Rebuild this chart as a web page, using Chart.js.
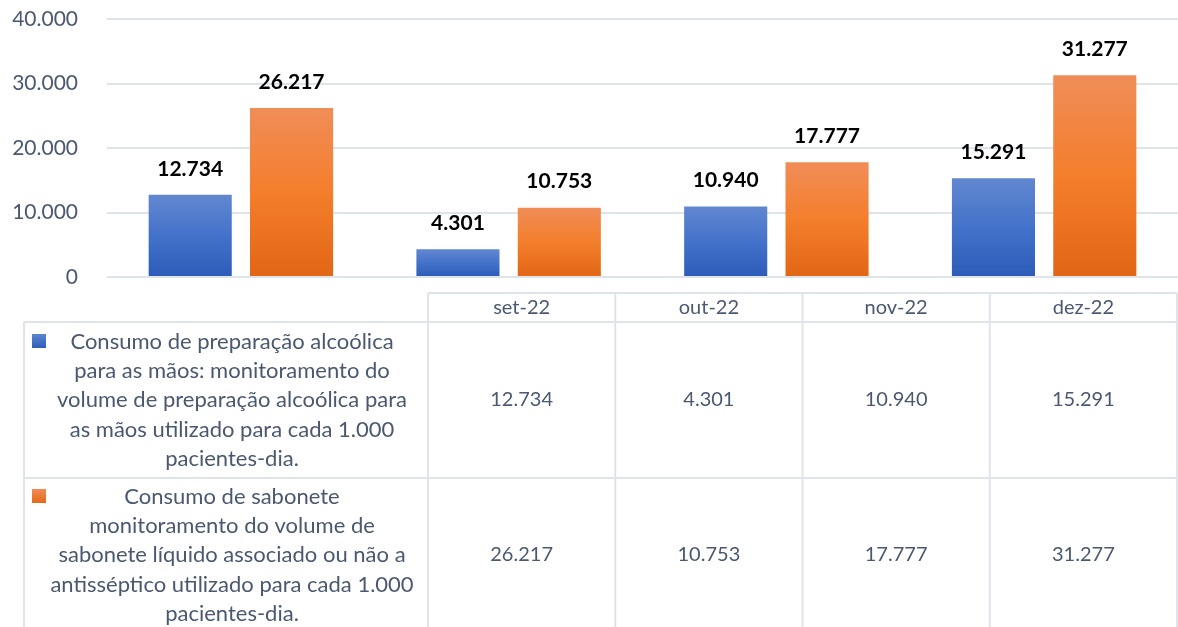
<!DOCTYPE html>
<html>
<head>
<meta charset="utf-8">
<script src="https://cdn.jsdelivr.net/npm/chart.js@4/dist/chart.umd.min.js"></script>
<style>
  html, body { margin: 0; padding: 0; background: #fff; }
  #wrap { width: 1178px; height: 627px; }
</style>
</head>
<body>
<div id="wrap"><canvas id="chart"></canvas></div>
<script>
// months shown in the data table
var months = ["set-22", "out-22", "nov-22", "dez-22"];

// series values
var alcoolValues = [12734, 4301, 10940, 15291];
var saboneteValues = [26217, 10753, 17777, 31277];

// legend text of the data table rows (already broken into lines like the original)
var alcoolLabel = [
    "Consumo de preparação alcoólica",
    "para as mãos: monitoramento do",
    "volume de preparação alcoólica para",
    "as mãos utilizado para cada 1.000",
    "pacientes-dia."
];
var saboneteLabel = [
    "Consumo de sabonete",
    "monitoramento do volume de",
    "sabonete líquido associado ou não a",
    "antisséptico utilizado para cada 1.000",
    "pacientes-dia."
];

var yTicks = [0, 10000, 20000, 30000, 40000];

var FONT = "Lato, 'Open Sans', sans-serif";
var TEXT_COLOR = "#4A5870";
var LINE_COLOR = "#DFE4EB";

function fmt(v) {
    // pt-BR thousands separator
    return v.toString().replace(/\B(?=(\d{3})+(?!\d))/g, ".");
}

// per-bar vertical gradient, like the excel fill
function barGradient(top, mid, bottom) {
    return function (ctx) {
        var chart = ctx.chart;
        if (!chart.chartArea || ctx.parsed == null) return mid;
        var y = chart.scales.y;
        var y0 = y.getPixelForValue(ctx.parsed.y);
        var y1 = y.getPixelForValue(0);
        if (!isFinite(y0) || y1 - y0 < 1) return mid;
        var g = chart.ctx.createLinearGradient(0, y0, 0, y1);
        g.addColorStop(0, top);
        g.addColorStop(0.5, mid);
        g.addColorStop(1, bottom);
        return g;
    };
}

/*
 value labels above the bars
 */
var valueLabels = {
    id: "valueLabels",
    afterDatasetsDraw: function (chart) {
        var c = chart.ctx;
        c.save();
        c.font = "bold 21px " + FONT;
        c.fillStyle = "#000";
        c.textAlign = "center";
        c.textBaseline = "middle";
        chart.data.datasets.forEach(function (ds, i) {
            chart.getDatasetMeta(i).data.forEach(function (bar, j) {
                c.fillText(fmt(ds.data[j]), bar.x, bar.y - 26);
            });
        });
        c.restore();
    }
};

/*
 data table under the plot
 */
var dataTable = {
    id: "dataTable",
    afterDraw: function (chart) {
        var c = chart.ctx;
        var left = 24, colStart = 428, right = 1177;
        var headTop = 293, row1Top = 322, row2Top = 478, bottom = 640;
        var colW = (right - colStart) / months.length;

        c.save();
        c.strokeStyle = LINE_COLOR;
        c.lineWidth = 2;
        c.beginPath();
        // horizontal lines
        c.moveTo(colStart, headTop); c.lineTo(right, headTop);
        c.moveTo(left, row1Top); c.lineTo(right, row1Top);
        c.moveTo(left, row2Top); c.lineTo(right, row2Top);
        // vertical lines
        c.moveTo(left, row1Top); c.lineTo(left, bottom);
        for (var k = 0; k <= months.length; k++) {
            var x = colStart + k * colW;
            c.moveTo(x, headTop); c.lineTo(x, bottom);
        }
        c.stroke();

        c.fillStyle = TEXT_COLOR;
        c.font = "20px " + FONT;
        c.textAlign = "center";
        c.textBaseline = "middle";
        months.forEach(function (m, k) {
            var cx = colStart + (k + 0.5) * colW;
            c.fillText(m, cx, 308);
            c.fillText(fmt(alcoolValues[k]), cx, 400);
            c.fillText(fmt(saboneteValues[k]), cx, 555);
        });

        // row legends
        c.font = "22px " + FONT;
        var rows = [
            { lines: alcoolLabel, top: 342, key: 334, ds: 0 },
            { lines: saboneteLabel, top: 497, key: 489, ds: 1 }
        ];
        rows.forEach(function (r) {
            r.lines.forEach(function (t, n) {
                c.fillText(t, 232, r.top + n * 29.2);
            });
            var g = c.createLinearGradient(0, r.key, 0, r.key + 14);
            if (r.ds === 0) {
                g.addColorStop(0, "#5F86D0"); g.addColorStop(1, "#2D5EB9");
            } else {
                g.addColorStop(0, "#F08C56"); g.addColorStop(1, "#E46A17");
            }
            c.fillStyle = g;
            c.fillRect(32, r.key, 14, 14);
            c.fillStyle = TEXT_COLOR;
        });
        c.restore();
    }
};

new Chart(document.getElementById("chart"), {
    type: "bar",
    data: {
        labels: months,
        datasets: [
            {
                label: alcoolLabel.join(" "),
                data: alcoolValues,
                backgroundColor: barGradient("#6287D0", "#4372CA", "#2C5CB8"),
                categoryPercentage: 0.757,
                barPercentage: 0.82
            },
            {
                label: saboneteLabel.join(" "),
                data: saboneteValues,
                backgroundColor: barGradient("#F08D58", "#F47E2C", "#E16616"),
                categoryPercentage: 0.757,
                barPercentage: 0.82
            }
        ]
    },
    options: {
        responsive: true,
        maintainAspectRatio: false,
        animation: false,
        layout: { padding: { top: 19, right: 0, bottom: 350, left: 0 } },
        plugins: {
            legend: { display: false },
            tooltip: { enabled: false }
        },
        scales: {
            x: { display: false },
            y: {
                min: 0,
                max: 40000,
                afterFit: function (scale) { scale.width = 107; },
                afterBuildTicks: function (scale) {
                    scale.ticks = yTicks.map(function (v) { return { value: v }; });
                },
                border: { display: false },
                // invisible tick marks give the gap between labels and plot
                grid: { color: LINE_COLOR, lineWidth: 2, drawTicks: true, tickLength: 29, tickColor: "rgba(0,0,0,0)" },
                ticks: {
                    padding: 0,
                    color: TEXT_COLOR,
                    font: { family: FONT, size: 21 },
                    callback: function (v) { return fmt(v); }
                }
            }
        }
    },
    plugins: [valueLabels, dataTable]
});
</script>
</body>
</html>
